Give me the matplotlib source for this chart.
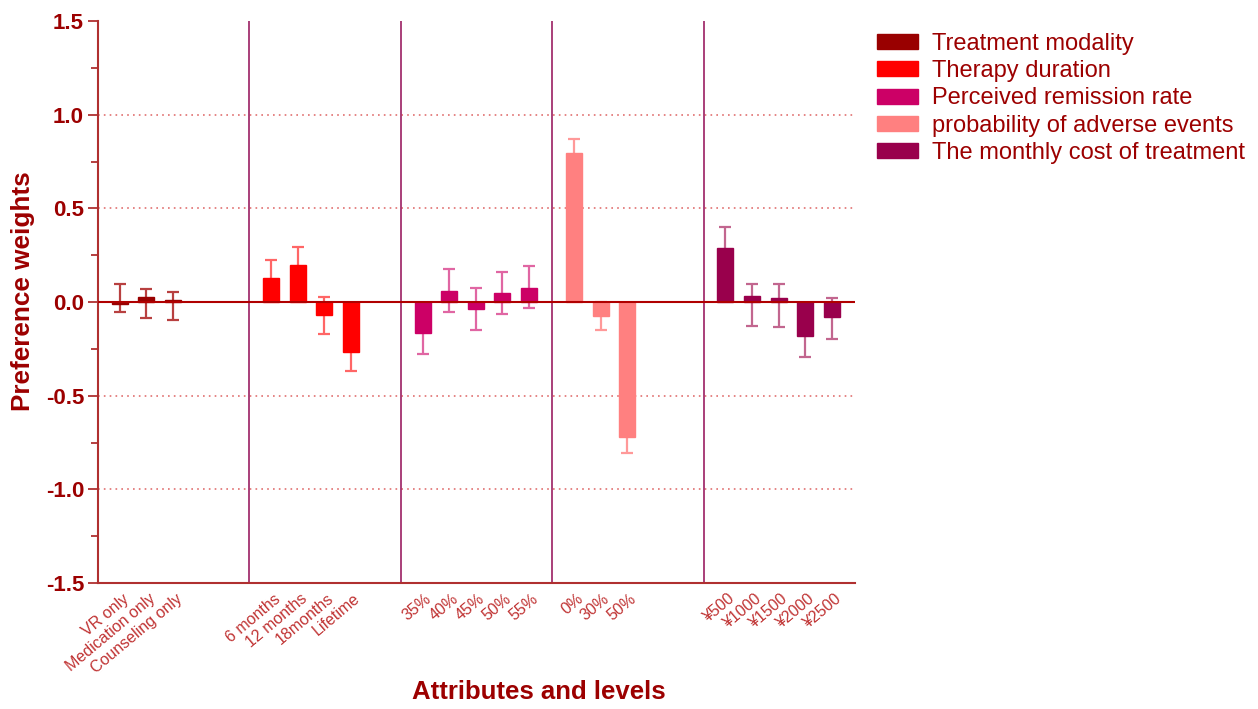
import matplotlib.pyplot as plt
import matplotlib.transforms as mtransforms
import numpy as np

plt.rcParams['font.family'] = ['Liberation Sans', 'DejaVu Sans']

# attributes, levels and estimated preference weights with 95% CI
attributes = ["Treatment modality", "Therapy duration", "Perceived remission rate",
              "probability of adverse events", "The monthly cost of treatment"]
levels = [
    ["VR only", "Medication only", "Counseling only"],
    ["6 months", "12 months", "18months", "Lifetime"],
    ["35%", "40%", "45%", "50%", "55%"],
    ["0%", "30%", "50%"],
    ["¥500", "¥1000", "¥1500", "¥2000", "¥2500"],
]
weights = [
    [-0.01, 0.025, 0.01],
    [0.128, 0.199, -0.069, -0.267],
    [-0.167, 0.057, -0.039, 0.05, 0.076],
    [0.795, -0.075, -0.721],
    [0.29, 0.03, 0.02, -0.18, -0.082],
]
ci_low = [
    [-0.055, -0.084, -0.098],
    [0.03, 0.104, -0.169, -0.368],
    [-0.279, -0.055, -0.151, -0.066, -0.032],
    [0.72, -0.151, -0.805],
    [0.178, -0.127, -0.133, -0.295, -0.2],
]
ci_high = [
    [0.095, 0.071, 0.055],
    [0.226, 0.294, 0.025, -0.166],
    [-0.055, 0.175, 0.073, 0.16, 0.194],
    [0.87, 0.001, -0.637],
    [0.402, 0.096, 0.096, -0.065, 0.023],
]
colors = ["#990000", "#FF0000", "#CC0066", "#FF8080", "#99004C"]
err_colors = ["#B84040", "#FF6666", "#E066A3", "#FF9999", "#C2668F"]

text_red = "#9C0000"
group_w = 5.69
first = 0.82

fig = plt.figure(figsize=(12.58, 7.09), dpi=100)
ax = fig.add_axes([98 / 1258, 1 - 583 / 709, (855 - 98) / 1258, (583 - 21) / 709])

ticks, tick_labels = [], []
for g in range(len(attributes)):
    x = g * group_w + first + np.arange(len(weights[g]))
    w = np.array(weights[g])
    lo = w - np.array(ci_low[g])
    hi = np.array(ci_high[g]) - w
    ax.errorbar(x, w, yerr=[lo, hi], fmt='none', ecolor=err_colors[g],
                elinewidth=1.6, capsize=4, capthick=1.6, zorder=2)
    ax.bar(x, w, width=0.6, color=colors[g], edgecolor=colors[g],
           linewidth=1.0, label=attributes[g], zorder=3)
    ticks += list(x)
    tick_labels += levels[g]
    if g > 0:
        ax.axvline(g * group_w, color="#A3306E", lw=1.3, zorder=1)

# reference lines
for yv in [-1.0, -0.5, 0.5, 1.0]:
    ax.axhline(yv, color="#E07070", lw=1.2, ls=(0, (1, 2.5)), zorder=0)
ax.axhline(0, color="#B00000", lw=1.5, zorder=4)

ax.set_xlim(0, 5 * group_w)
ax.set_ylim(-1.5, 1.5)
ax.set_yticks(np.arange(-1.5, 1.51, 0.5))
ax.set_yticks(np.arange(-1.5, 1.51, 0.25), minor=True)
ax.set_yticklabels([f"{v:.1f}" for v in np.arange(-1.5, 1.51, 0.5)],
                   fontsize=16, fontweight='bold', color=text_red)
ax.tick_params(axis='y', which='major', length=7, width=1.3, color="#B03030", pad=3)
ax.tick_params(axis='y', which='minor', length=5, width=1.3, color="#B03030")

ax.set_xticks(ticks)
ax.set_xticklabels(tick_labels, rotation=40, ha='right', va='center',
                   rotation_mode='anchor', fontsize=11.5, color="#C03333")
ax.tick_params(axis='x', length=0, pad=10)
shift = mtransforms.ScaledTranslation(0.07, 0, fig.dpi_scale_trans)
for lbl in ax.get_xticklabels():
    lbl.set_transform(lbl.get_transform() + shift)

for s in ['top', 'right']:
    ax.spines[s].set_visible(False)
for s in ['left', 'bottom']:
    ax.spines[s].set_color("#B03030")
    ax.spines[s].set_linewidth(1.5)

fig.text(23 / 1258, 1 - 291 / 709, "Preference weights", fontsize=18.8, fontweight='bold',
         color=text_red, rotation=90, ha='center', va='center')
fig.text(539 / 1258, 1 - 692 / 709, "Attributes and levels", fontsize=18.5,
         fontweight='bold', color=text_red, ha='center', va='center')

fig.legend(loc='upper left', bbox_to_anchor=(877 / 1258, 1 - 33 / 709), frameon=False,
           fontsize=17, labelcolor=text_red, handlelength=1.75, handleheight=0.6,
           handletextpad=0.6, labelspacing=0.22, borderaxespad=0, borderpad=0)

fig.savefig("out.png", dpi=100)
